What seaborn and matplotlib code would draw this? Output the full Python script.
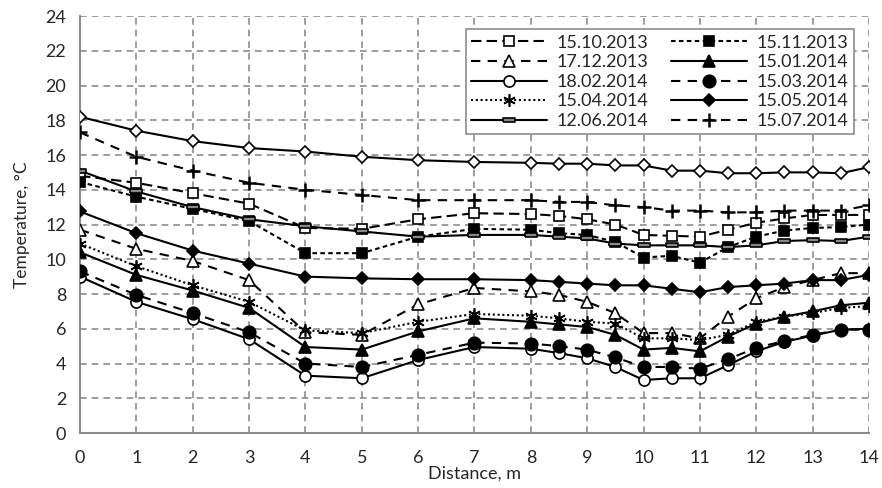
import matplotlib
matplotlib.use("Agg")
import matplotlib.pyplot as plt
import seaborn as sns
import pandas as pd

# distance points (m)
distance = [0, 1, 2, 3, 4, 5, 6, 7, 8, 8.5, 9, 9.5, 10, 10.5, 11, 11.5, 12, 12.5, 13, 13.5, 14]

# temperatures, °C
t_top_open_diamond = [18.2, 17.4, 16.8, 16.4, 16.2, 15.9, 15.7, 15.6, 15.55, 15.5, 15.5,
                      15.4, 15.4, 15.1, 15.1, 14.95, 14.95, 15.0, 15.0, 14.95, 15.3]
t_15_10_2013 = [14.8, 14.4, 13.8, 13.2, 11.8, 11.75, 12.3, 12.65, 12.6, 12.5, 12.3,
                12.0, 11.4, 11.35, 11.3, 11.7, 12.1, 12.35, 12.55, 12.55, 12.55]
t_15_11_2013 = [14.45, 13.6, 12.9, 12.2, 10.35, 10.35, 11.3, 11.75, 11.7, 11.5, 11.4,
                11.0, 10.1, 10.2, 9.8, 10.7, 11.3, 11.65, 11.8, 11.85, 12.0]
t_17_12_2013 = [11.7, 10.6, 9.9, 8.8, 5.8, 5.65, 7.4, 8.35, 8.15, 7.95, 7.55,
                6.9, 5.75, 5.75, 5.45, 6.7, 7.75, 8.4, 8.8, 9.2, 9.2]
t_15_01_2014 = [10.4, 9.1, 8.2, 7.2, 4.95, 4.8, 5.85, 6.6, 6.4, 6.25, 6.1,
                5.65, 4.8, 4.9, 4.7, 5.55, 6.3, 6.7, 7.0, 7.35, 7.5]
t_18_02_2014 = [9.0, 7.55, 6.55, 5.4, 3.3, 3.15, 4.2, 4.95, 4.85, 4.6, 4.3,
                3.8, 3.05, 3.15, 3.15, 3.9, 4.7, 5.25, 5.6, 5.95, 6.0]
t_15_03_2014 = [9.3, 7.95, 6.9, 5.8, 4.0, 3.8, 4.5, 5.2, 5.15, 5.0, 4.8,
                4.35, 3.8, 3.8, 3.7, 4.25, 4.9, 5.3, 5.65, 5.95, 5.95]
t_15_04_2014 = [10.9, 9.6, 8.5, 7.55, 5.9, 5.75, 6.4, 6.85, 6.75, 6.6, 6.4,
                6.3, 5.45, 5.45, 5.35, 5.65, 6.4, 6.7, 6.9, 7.2, 7.3]
t_15_05_2014 = [12.75, 11.5, 10.5, 9.75, 9.0, 8.9, 8.85, 8.85, 8.8, 8.7, 8.6,
                8.5, 8.5, 8.3, 8.1, 8.4, 8.5, 8.6, 8.8, 8.8, 9.1]
t_12_06_2014 = [15.1, 13.9, 13.0, 12.3, 11.9, 11.6, 11.3, 11.4, 11.4, 11.3, 11.2,
                10.9, 10.8, 10.8, 10.8, 10.7, 10.8, 11.05, 11.1, 11.05, 11.3]
t_15_07_2014 = [17.3, 15.9, 15.1, 14.4, 14.0, 13.7, 13.4, 13.4, 13.4, 13.3, 13.3,
                13.1, 13.0, 12.8, 12.8, 12.7, 12.7, 12.8, 12.8, 12.8, 13.1]

bar = [(-1, -0.32), (1, -0.32), (1, 0.32), (-1, 0.32), (-1, -0.32)]

# (label, values, marker, face, linestyle, marker size)
series = [
    ("15.10.2013", t_15_10_2013, "s", "white", (0, (5, 2.5)), 7),
    ("15.11.2013", t_15_11_2013, "s", "black", (0, (2.2, 1.6)), 7),
    ("17.12.2013", t_17_12_2013, "^", "white", (0, (4.5, 3.5)), 8),
    ("15.01.2014", t_15_01_2014, "^", "black", "-", 8),
    ("18.02.2014", t_18_02_2014, "o", "white", "-", 8),
    ("15.03.2014", t_15_03_2014, "o", "black", (0, (4.5, 3.5)), 9),
    ("15.04.2014", t_15_04_2014, (6, 2, 0), "black", (0, (1, 1.3)), 9),
    ("15.05.2014", t_15_05_2014, "D", "black", "-", 6.5),
    ("12.06.2014", t_12_06_2014, bar, "#888888", "-", 8),
    ("15.07.2014", t_15_07_2014, "+", "black", (0, (4.5, 3.5)), 10),
]

sns.set_style("white")
plt.rcParams["font.family"] = ["Lato", "DejaVu Sans"]

fig = plt.figure(figsize=(8.82, 4.88), dpi=100)
ax = fig.add_axes([0.0907, 0.1127, 0.8945, 0.8545])

# top curve without legend entry
sns.lineplot(x=distance, y=t_top_open_diamond, ax=ax, color="black", lw=1.5,
             marker="D", markersize=6.5, markerfacecolor="white",
             markeredgecolor="black", markeredgewidth=1.2, legend=False, zorder=3)

handles = {}
for label, vals, mk, face, ls, ms in series:
    sns.lineplot(x=distance, y=vals, ax=ax, color="black", lw=1.5, linestyle=ls,
                 marker=mk, markersize=ms, markerfacecolor=face,
                 markeredgecolor="black", markeredgewidth=1.2 if mk not in ("+",) else 1.8,
                 label=label, zorder=3)
    handles[label] = ax.lines[-1]

ax.set_xlim(0, 14)
ax.set_ylim(0, 24)
ax.set_xticks(range(0, 15))
ax.set_yticks(range(0, 25, 2))
ax.grid(True, color="#8c8c8c", linestyle=(0, (4, 3)), linewidth=1.2)
for s in ["top", "right"]:
    ax.spines[s].set_visible(False)
for s in ["left", "bottom"]:
    ax.spines[s].set_color("#8c8c8c")
    ax.spines[s].set_linewidth(1.5)
ax.tick_params(axis="both", direction="out", length=5, width=1.2, color="#8c8c8c",
               labelsize=13, pad=5)
ax.tick_params(axis="x", pad=7)

ax.set_xlabel("Distance, m", fontsize=13, labelpad=0)
ax.set_ylabel("Temperature, °C", fontsize=12.5, labelpad=11)

order = ["15.10.2013", "17.12.2013", "18.02.2014", "15.04.2014", "12.06.2014",
         "15.11.2013", "15.01.2014", "15.03.2014", "15.05.2014", "15.07.2014"]
leg = ax.legend([handles[k] for k in order], order, ncol=2, loc="upper right",
                bbox_to_anchor=(0.992, 0.99), fontsize=13, frameon=True,
                fancybox=False, edgecolor="#8c8c8c", framealpha=1,
                handlelength=4.2, handletextpad=0.5, columnspacing=1.3,
                labelspacing=0.2, borderpad=0.3)
leg.get_frame().set_linewidth(1.2)

fig.savefig("out.png", dpi=100)
